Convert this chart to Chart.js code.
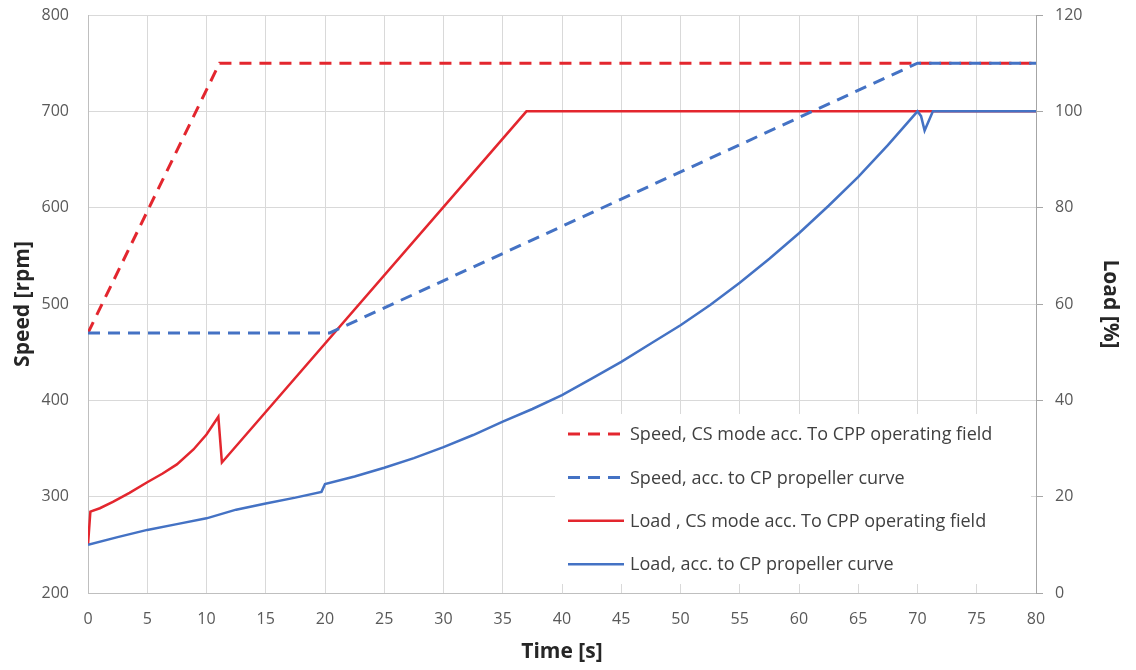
<!DOCTYPE html>
<html>
<head>
<meta charset="utf-8">
<script src="https://cdn.jsdelivr.net/npm/chart.js@4.4.0/dist/chart.umd.min.js"></script>
<style>
  html, body { margin:0; padding:0; background:#fff; }
  #wrap { width:1136px; height:670px; }
</style>
</head>
<body>
<div id="wrap"><canvas id="grafico"></canvas></div>
<script>
// Datos
const speedCsTime = [0, 11.1, 80];
const speedCsRpm  = [470, 750, 750];

const speedCpTime = [0, 20.4, 70, 80];
const speedCpRpm  = [470, 470, 750, 750];

const loadCsTime = [0, 0.2, 1, 2.1, 3.5, 5, 6.3, 7.5, 8.9, 10, 11, 11.3, 37, 80];
const loadCsPct  = [10, 16.9, 17.6, 18.9, 20.8, 23, 24.8, 26.7, 29.8, 32.9, 36.6, 27.1, 100, 100];

const loadCpTime = [0, 2.5, 5, 7.5, 10, 12.5, 15, 17.5, 19.7, 20, 22.5, 25, 27.5, 30, 32.5, 35, 37.5, 40,
                    42.5, 45, 47.5, 50, 52.5, 55, 57.5, 60, 62.5, 65, 67.5, 70, 70.3, 70.6, 71.3, 80];
const loadCpPct  = [10, 11.6, 13.1, 14.3, 15.5, 17.3, 18.6, 19.8, 21.0, 22.6, 24.2, 26.0, 28.0, 30.3, 32.8, 35.6, 38.2, 41.1,
                    44.5, 48.0, 51.8, 55.6, 59.8, 64.4, 69.4, 74.7, 80.4, 86.4, 93.0, 100, 99, 96, 100, 100];

const legendLabels = [
  "Speed, CS mode acc. To CPP operating field",
  "Speed, acc. to CP propeller curve",
  "Load , CS mode acc. To CPP operating field",
  "Load, acc. to CP propeller curve"
];

const ROJO = '#E3262E';
const AZUL = '#4472C4';
const FUENTE = "'Open Sans', sans-serif";

function puntos(ts, vs){ return ts.map((t,i)=>({x:t, y:vs[i]})); }

// Leyenda dentro del área del gráfico (abajo a la derecha)
const leyendaPlugin = {
  id: 'leyendaInterna',
  beforeDatasetsDraw(chart){
    const ctx = chart.ctx;
    ctx.save();
    ctx.fillStyle = '#fff';
    ctx.fillRect(555, 414, 476, 170);
    ctx.restore();
  },
  afterDatasetsDraw(chart){
    const ctx = chart.ctx;
    ctx.save();
    ctx.font = "18px " + FUENTE;
    ctx.textBaseline = 'middle';
    ctx.fillStyle = '#404040';
    chart.data.datasets.forEach((ds,i)=>{
      const y = 434 + i*43.4;
      ctx.strokeStyle = ds.borderColor;
      ctx.lineWidth = ds.borderWidth;
      ctx.setLineDash(ds.borderDash || []);
      ctx.beginPath();
      ctx.moveTo(568, y);
      ctx.lineTo(624, y);
      ctx.stroke();
      ctx.setLineDash([]);
      ctx.fillText(legendLabels[i], 630, y + 1);
    });
    ctx.restore();
  }
};

// Quitar el relleno extra que Chart.js añade por las etiquetas
function sinRellenoV(s, ancho){ s.width = ancho; s.paddingTop = 0; s.paddingBottom = 0; }

const ctx = document.getElementById("grafico").getContext("2d");
new Chart(ctx, {
  type: 'line',
  data: {
    datasets: [
      { data: puntos(speedCsTime, speedCsRpm), yAxisID:'y', borderColor:ROJO, borderWidth:3, borderDash:[12,8], order:4 },
      { data: puntos(speedCpTime, speedCpRpm), yAxisID:'y', borderColor:AZUL, borderWidth:3, borderDash:[12,8], order:2 },
      { data: puntos(loadCsTime, loadCsPct), yAxisID:'y1', borderColor:ROJO, borderWidth:2.5, order:3 },
      { data: puntos(loadCpTime, loadCpPct), yAxisID:'y1', borderColor:AZUL, borderWidth:2.5, order:1 }
    ]
  },
  options: {
    responsive: true,
    maintainAspectRatio: false,
    animation: false,
    layout: { padding: { top: 15, left: 0, right: 0, bottom: 0 } },
    elements: { point: { radius: 0 }, line: { tension: 0, borderCapStyle:'butt' } },
    plugins: { legend: { display:false }, tooltip: { enabled:false } },
    scales: {
      x: {
        type: 'linear', min: 0, max: 80,
        grid: { color:'#d9d9d9', drawTicks:false },
        border: { color:'#bfbfbf' },
        ticks: { stepSize:5, padding:17, color:'#595959', font:{ family:FUENTE, size:16 } },
        title: { display:true, text:'Time [s]', color:'#262626', font:{ family:FUENTE, size:21, weight:'bold' }, padding:{ top:0, bottom:5 } },
        afterFit(s){ s.height = 77; s.paddingLeft = 0; s.paddingRight = 0; }
      },
      y: {
        position: 'left', min: 200, max: 800,
        grid: { color:'#d9d9d9', drawTicks:false },
        border: { color:'#bfbfbf' },
        ticks: { stepSize:100, padding:19, color:'#595959', font:{ family:FUENTE, size:16 } },
        title: { display:true, text:'Speed [rpm]', color:'#262626', font:{ family:FUENTE, size:21, weight:'bold' }, padding:{ top:10, bottom:0 } },
        afterFit(s){ sinRellenoV(s, 88); }
      },
      y1: {
        position: 'right', min: 0, max: 120,
        grid: { drawOnChartArea:false, color:'#a6a6a6', tickLength:7 },
        border: { color:'#a6a6a6' },
        ticks: { stepSize:20, padding:12, color:'#595959', font:{ family:FUENTE, size:16 } },
        title: { display:true, text:'Load [%]', color:'#262626', font:{ family:FUENTE, size:21, weight:'bold' }, padding:{ top:13, bottom:0 } },
        afterFit(s){ sinRellenoV(s, 100); }
      }
    }
  },
  plugins: [leyendaPlugin]
});
</script>
</body>
</html>
